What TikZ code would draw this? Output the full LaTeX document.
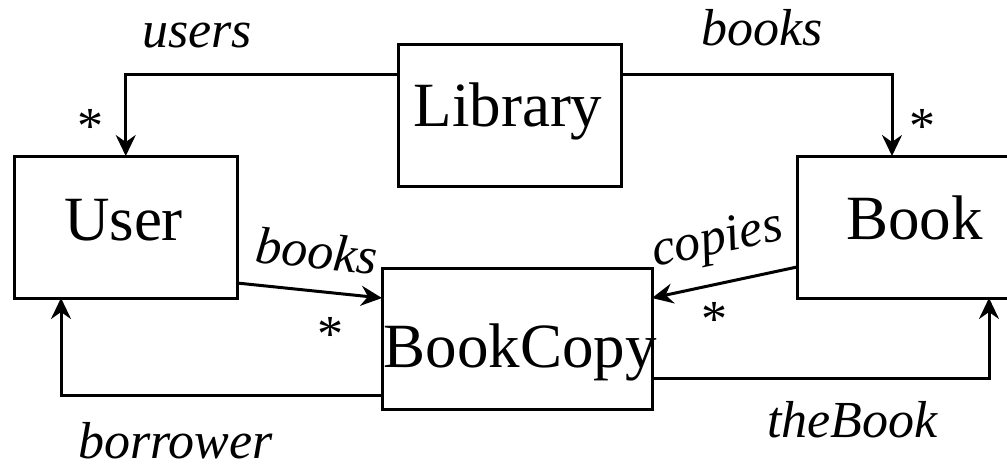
\documentclass[tikz,border=0pt]{standalone}
\usepackage{fontspec}
\setmainfont{Liberation Serif}
\usetikzlibrary{arrows.meta,calc}

\begin{document}
\begin{tikzpicture}[x=1pt,y=-1pt,
  classbox/.style={draw,line width=3pt,inner sep=0pt,outer sep=0pt},
  classname/.style={anchor=base,inner sep=0pt,font=\fontsize{63}{70}\selectfont},
  rolename/.style={anchor=base,inner sep=0pt,font=\fontsize{52}{60}\selectfont\itshape},
  multiplicity/.style={anchor=base,inner sep=0pt,font=\fontsize{52}{60}\selectfont},
  assoc/.style={line width=3pt,-{Stealth[length=21pt,width=20pt,inset=7pt]}}]

\useasboundingbox (0,0) rectangle (1007,464);
\clip (0,0) rectangle (1007,464);

% classes
\node[classbox,minimum width=222.5pt,minimum height=142pt] (user) at (125.75,227) {};
\node[classbox,minimum width=223pt,minimum height=141.5pt] (lib) at (509.5,115.25) {};
\node[classbox,minimum width=270pt,minimum height=141pt] (copy) at (517,338.5) {};
\node[classbox,minimum width=235pt,minimum height=142pt] (book) at (914.5,227) {};

\node[classname] (usertxt) at (123.5,240) {User};
\node[classname] (libtxt) at (508,126) {Library};
\node[classname] (copytxt) at (520,367) {BookCopy};
\node[classname] (booktxt) at (914.5,239) {Book};

% associations
\draw[assoc] ($(lib.north west)+(0,29.5)$) -| (user.north);
\draw[assoc] ($(lib.north east)+(0,29.5)$) -| ($(book.north west)+(95,0)$);
\draw[assoc] ($(user.south east)+(0,-15)$) -- ($(copy.north west)+(0,30)$);
\draw[assoc] ($(book.south west)+(0,-31)$) -- ($(copy.north east)+(0,30)$);
\draw[assoc] ($(copy.south west)+(0,-14)$) -| ($(user.south west)+(46.5,0)$);
\draw[assoc] ($(copy.south east)+(0,-31)$) -| ($(book.south west)+(192,0)$);

% role names
\node[rolename] (rusers) at (197,47) {users};
\node[rolename] (rbooks) at (762,45) {books};
\node[rolename,rotate=-6] (rubooks) at (315,268.5) {books};
\node[rolename,rotate=12] (rcopies) at (720,253) {copies};
\node[rolename] (rborrower) at (175.5,458) {borrower};
\node[rolename] (rthebook) at (852.5,437) {theBook};

% multiplicities
\node[multiplicity] (musers) at (90,143) {*};
\node[multiplicity] (mbooks) at (922,143) {*};
\node[multiplicity] (mubooks) at (330.5,351) {*};
\node[multiplicity] (mcopies) at (714,336) {*};
\end{tikzpicture}
\end{document}
